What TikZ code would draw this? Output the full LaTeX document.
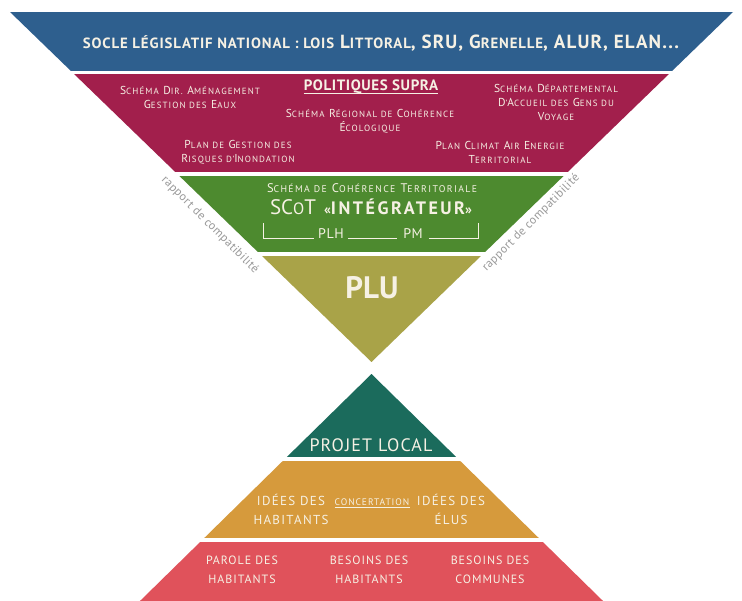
\documentclass[tikz,border=0pt]{standalone}
\usepackage{fontspec}
\setmainfont{PT Sans}
\makeatletter
\newcommand\sm[1]{{\fontsize{\fpeval{0.78*\f@size}}{\f@baselineskip}\selectfont #1}}
\makeatother
\newcommand\fs[2][1.15]{\fontsize{#2}{\fpeval{#1*#2}}\selectfont}
\newcommand\trk[1]{\addfontfeatures{LetterSpace=#1}}
\definecolor{cBlue}{HTML}{2E5F8E}
\definecolor{cCrim}{HTML}{A21F4C}
\definecolor{cGreen}{HTML}{4D8A2F}
\definecolor{cOlive}{HTML}{A9A348}
\definecolor{cTeal}{HTML}{1B6B5C}
\definecolor{cOrange}{HTML}{D69A3C}
\definecolor{cRed}{HTML}{E0525B}
\definecolor{cText}{HTML}{F6F1E4}
\tikzset{
  wt/.style={text=cText, align=center, inner sep=0pt},
  sctext/.style={wt, font={\trk{12}\fontsize{11.5}{14}\selectfont}},
  lowtext/.style={wt, font={\trk{10}\fontsize{13}{19}\selectfont}},
  redtext/.style={wt, font={\trk{8}\fontsize{12}{19}\selectfont}},
  rapport/.style={text=gray!80, inner sep=0pt, font={\trk{3}\fs{12}}},
  brk/.style={draw=cText, line width=0.8pt},
}
\begin{document}
\begin{tikzpicture}[x=1pt,y=-1pt]
\useasboundingbox (0,0) rectangle (742,601);
\fill[white] (0,0) rectangle (742,601);
% top inverted triangle
\coordinate (TL) at (10,12);
\coordinate (TR) at (733,12);
\coordinate (TA) at (371.5,362);
\begin{scope}
  \clip (TL) -- (TR) -- (TA) -- cycle;
  \fill[cBlue]  (0,12)  rectangle (742,71);
  \fill[cCrim]  (0,74)  rectangle (742,172);
  \fill[cGreen] (0,176) rectangle (742,252);
  \fill[cOlive] (0,256) rectangle (742,362);
\end{scope}
% bottom pyramid
\coordinate (BA) at (371.5,374);
\coordinate (BL) at (130.8,610);
\coordinate (BR) at (612.2,610);
\begin{scope}
  \clip (BA) -- (BL) -- (BR) -- cycle;
  \fill[cTeal]   (0,374) rectangle (742,457);
  \fill[cOrange] (0,461) rectangle (742,538);
  \fill[cRed]    (0,542) rectangle (742,610);
\end{scope}

% blue band
\node[wt, font={\trk{6}\bfseries\fs{19}}] (socle) at (381,43)
  {\sm{SOCLE LÉGISLATIF NATIONAL : LOIS} L\sm{ITTORAL}, SRU, G\sm{RENELLE}, ALUR, ELAN...};

% crimson band
\node[wt, font={\trk{4}\bfseries\fs{15}}] (supra) at (371,87) {POLITIQUES SUPRA};
\draw[cText, line width=0.8pt] ([yshift=-3pt]supra.base west) -- ([yshift=-3pt]supra.base east);
\node[sctext] (sdage) at (190,97)
  {S\sm{CHÉMA} D\sm{IR.} A\sm{MÉNAGEMENT}\\G\sm{ESTION DES} E\sm{AUX}};
\node[sctext] (srce) at (370,121)
  {S\sm{CHÉMA} R\sm{ÉGIONAL DE} C\sm{OHÉRENCE}\\É\sm{COLOGIQUE}};
\node[sctext] (sdagv) at (556,102)
  {S\sm{CHÉMA} D\sm{ÉPARTEMENTAL}\\D\sm{'}A\sm{CCUEIL DES} G\sm{ENS DU}\\V\sm{OYAGE}};
\node[sctext] (pgri) at (238,152)
  {P\sm{LAN DE} G\sm{ESTION DES}\\R\sm{ISQUES D'}I\sm{NONDATION}};
\node[sctext] (pcaet) at (500,152)
  {P\sm{LAN} C\sm{LIMAT} A\sm{IR} E\sm{NERGIE}\\T\sm{ERRITORIAL}};

% green band
\node[wt, font={\trk{14}\fs{12.5}}] (scotname) at (372,188)
  {S\sm{CHÉMA DE} C\sm{OHÉRENCE} T\sm{ERRITORIALE}};
\node[wt] (scot) at (371,207)
  {{\fs{21}SC\sm{O}T}\hspace{8pt}{\trk{14}\bfseries\fs{18}\sm{«}INTÉGRATEUR\sm{»}}};
\node[wt, font={\trk{4}\fs{14}}, anchor=base] (plh) at (331,238.5) {PLH};
\node[wt, font={\trk{4}\fs{14}}, anchor=base] (pm) at (413,238.5) {PM};
\coordinate (bl) at (263,223);
\coordinate (br) at (478,223);
\draw[brk] (bl) |- ([xshift=-4pt]plh.base west);
\draw[brk] ([xshift=4pt]plh.base east) -- ([xshift=-6pt]pm.base west);
\draw[brk] ([xshift=6pt]pm.base east) -| (br);

% PLU
\node[wt, font=\bfseries\fs{31}] (plu) at (372,288) {PLU};

% rapport de compatibilite
\node[rapport, rotate=-45] (rapL) at (210,225) {rapport de compatibilité};
\node[rapport, rotate=45]  (rapR) at (531,223) {rapport de compatibilité};

% bottom pyramid texts
\node[wt, font={\trk{6}\fs{18}}] (projet) at (371,445) {PROJET LOCAL};
\node[lowtext] (ideesH) at (291,509.5) {IDÉES DES\\HABITANTS};
\node[wt, font={\trk{10}\fs{9.5}}] (concert) at (372,502) {CONCERTATION};
\draw[cText, line width=0.7pt] ([yshift=-2.5pt]concert.base west) -- ([yshift=-2.5pt]concert.base east);
\node[lowtext] (ideesE) at (451,509.5) {IDÉES DES\\ÉLUS};
\node[redtext] (parole) at (242,569.5) {PAROLE DES\\HABITANTS};
\node[redtext] (besH) at (369,569.5) {BESOINS DES\\HABITANTS};
\node[redtext] (besC) at (490,569.5) {BESOINS DES\\COMMUNES};
\end{tikzpicture}
\end{document}
